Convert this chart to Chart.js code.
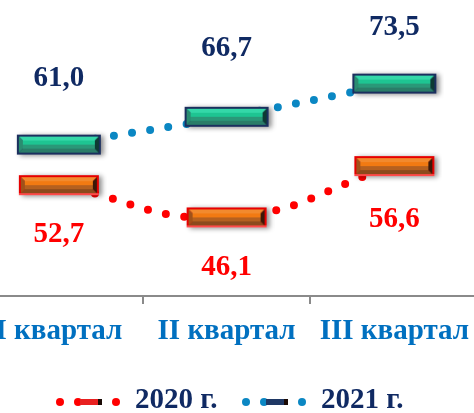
<!DOCTYPE html>
<html><head><meta charset="utf-8">
<script src="https://cdn.jsdelivr.net/npm/chart.js@4"></script>
<style>
html,body{margin:0;padding:0;background:#fff;overflow:hidden;width:474px;height:413px;}
#wrap{position:absolute;left:-25px;top:0;width:504px;height:413px;}
</style></head><body>
<div id="wrap"><canvas id="c" width="504" height="413"></canvas></div>
<script>
const categories = ['I квартал', 'II квартал', 'III квартал'];
const seriesNames = ['2020 г.', '2021 г.'];
const values2020 = [52.7, 46.1, 56.6];
const values2021 = [61.0, 66.7, 73.5];

const FONT = '"Liberation Serif", "Times New Roman", serif';
const OFFX = 25; // canvas is shifted left by this many px

function makeMarker(w, h, c) {
  const pad = 8;
  const cv = document.createElement('canvas');
  cv.width = w + pad * 2; cv.height = h + pad * 2;
  const g = cv.getContext('2d');
  const x0 = pad, y0 = pad;
  g.save();
  g.shadowColor = 'rgba(0,0,0,0.45)'; g.shadowBlur = 5; g.shadowOffsetX = 3; g.shadowOffsetY = 1;
  g.fillStyle = c.border; g.fillRect(x0, y0, w, h);
  g.restore();
  g.fillStyle = c.border; g.fillRect(x0, y0, w, h);
  if (c.borderBottom) { g.fillStyle = c.borderBottom; g.fillRect(x0, y0 + h - 2, w, 2); }
  const bw = 2, b = 4;
  const ix0 = x0 + bw, iy0 = y0 + bw, ix1 = x0 + w - bw, iy1 = y0 + h - bw;
  const poly = (pts, col) => { g.fillStyle = col; g.beginPath(); g.moveTo(pts[0], pts[1]); for (let i = 2; i < pts.length; i += 2) g.lineTo(pts[i], pts[i + 1]); g.closePath(); g.fill(); };
  poly([ix0, iy0, ix1, iy0, ix1 - b, iy0 + b, ix0 + b, iy0 + b], c.top);
  poly([ix0, iy1, ix1, iy1, ix1 - b, iy1 - b, ix0 + b, iy1 - b], c.bottom);
  poly([ix0, iy0, ix0 + b, iy0 + b, ix0 + b, iy1 - b, ix0, iy1], c.left);
  poly([ix1, iy0, ix1 - b, iy0 + b, ix1 - b, iy1 - b, ix1, iy1], c.right);
  const fy0 = iy0 + b, fy1 = iy1 - b;
  const grd = g.createLinearGradient(0, fy0, 0, fy1);
  grd.addColorStop(0, c.face1); grd.addColorStop(0.5, c.face1);
  grd.addColorStop(0.5, c.face2); grd.addColorStop(1, c.face2);
  g.fillStyle = grd; g.fillRect(ix0 + b, fy0, ix1 - ix0 - 2 * b, fy1 - fy0);
  return cv;
}

const orangeStyle = { border: '#e60000', borderBottom: '#ff4a4a', top: '#f28a2e', face1: '#f27a12', face2: '#b5601f', bottom: '#8c4a1c', left: '#a0521a', right: '#3b1808' };
const tealStyle = { border: '#1b2f5e', top: '#34d8a8', face1: '#1ec592', face2: '#2a9878', bottom: '#2a7d68', left: '#2a8c70', right: '#0e3a33' };
const marker2020 = makeMarker(80, 20, orangeStyle);
const marker2021 = makeMarker(84, 20, tealStyle);

const fmt = v => v.toFixed(1).replace('.', ',');

const labelPlugin = {
  id: 'valueLabels',
  afterDatasetsDraw(chart, args, opts) {
    const ctx = chart.ctx;
    ctx.save();
    ctx.font = 'bold 29px ' + FONT;
    ctx.textAlign = 'center';
    ctx.textBaseline = 'middle';
    chart.data.datasets.forEach((ds, di) => {
      const meta = chart.getDatasetMeta(di);
      const offs = opts.offsets[di];
      ctx.fillStyle = opts.colors[di];
      meta.data.forEach((pt, i) => {
        ctx.fillText(fmt(ds.data[i]), pt.x, pt.y + offs[i]);
      });
    });
    ctx.restore();
  }
};

const legendPlugin = {
  id: 'customLegend',
  afterDraw(chart, args, opts) {
    const ctx = chart.ctx;
    ctx.save();
    chart.data.datasets.forEach((ds, di) => {
      const it = opts.items[di];
      const x = it.x + OFFX, y = opts.y;
      ctx.fillStyle = ds.borderColor;
      [0, 18, 56].forEach(dx => { ctx.beginPath(); ctx.arc(x + dx, y + 1, 4, 0, Math.PI * 2); ctx.fill(); });
      ctx.fillStyle = it.rect;
      ctx.fillRect(x + 20, y - 2, 22, 6);
      ctx.fillStyle = '#1a0a05';
      ctx.fillRect(x + 38, y - 2, 4, 6);
      ctx.font = 'bold 29px ' + FONT;
      ctx.textAlign = 'left';
      ctx.textBaseline = 'middle';
      ctx.fillStyle = opts.color;
      ctx.fillText(ds.label, it.x + 75 + OFFX, y);
    });
    ctx.restore();
  }
};

new Chart(document.getElementById('c'), {
  type: 'line',
  data: {
    labels: categories,
    datasets: [
      { label: seriesNames[0], data: values2020, borderColor: '#ff0000', backgroundColor: '#ff0000',
        borderWidth: 8, borderDash: [0, 18.5], borderCapStyle: 'round', tension: 0.45,
        pointStyle: marker2020, pointRadius: 10, pointHoverRadius: 10, clip: false },
      { label: seriesNames[1], data: values2021, borderColor: '#0b87c3', backgroundColor: '#0b87c3',
        borderWidth: 8, borderDash: [0, 18.5], borderCapStyle: 'round', tension: 0.45,
        pointStyle: marker2021, pointRadius: 10, pointHoverRadius: 10, clip: false }
    ]
  },
  options: {
    responsive: false,
    animation: false,
    events: [],
    layout: { autoPadding: false, padding: { top: 3, bottom: 60, left: 0, right: 0 } },
    scales: {
      x: {
        offset: true,
        grid: { display: true, drawOnChartArea: false, drawTicks: true, tickLength: 8, color: '#8a8a8a', lineWidth: 2, offset: true },
        border: { display: true, color: '#8a8a8a', width: 2 },
        ticks: { color: '#0070c0', font: { family: FONT, size: 29, weight: 'bold' }, padding: 10, maxRotation: 0, autoSkip: false },
        afterFit(scale) { scale.height = 57; }
      },
      y: { display: false, min: 30, max: 90 }
    },
    plugins: {
      legend: { display: false },
      tooltip: { enabled: false },
      valueLabels: { offsets: [[49, 50, 53], [-66, -68, -56]], colors: ['#ff0000', '#102a63'] },
      customLegend: { y: 401, color: '#102a63', items: [{ x: 60, rect: '#e82020' }, { x: 246, rect: '#1f3864' }] }
    }
  },
  plugins: [labelPlugin, legendPlugin]
});
</script>
</body></html>
